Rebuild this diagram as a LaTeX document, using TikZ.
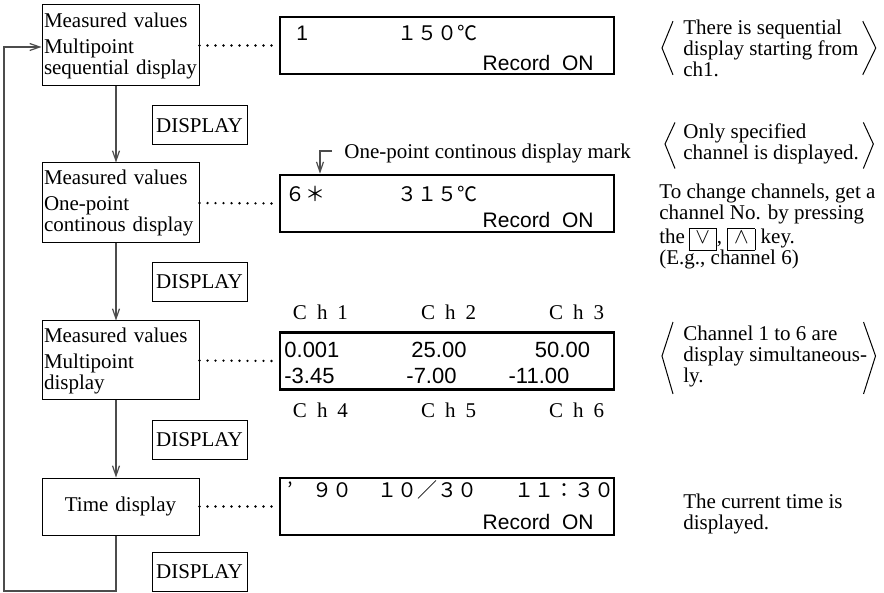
\documentclass[tikz,border=0pt]{standalone}
\usepackage{fontspec}
\setmainfont{Liberation Serif}
\newfontfamily\lcdfont{Liberation Sans}
\newfontfamily\cjkfont{Noto Sans CJK JP}
\usetikzlibrary{positioning,arrows.meta,calc}
\newcommand{\keybox}[1]{{\setlength{\fboxsep}{0.5pt}\fbox{\rule[-2.5pt]{0pt}{9.5pt}\hspace{2.5pt}$#1$\hspace{2.5pt}}}}
\newcommand{\chlabel}[1]{C\hspace{5pt}h\hspace{5pt}#1}
\lineskiplimit=-10pt
\hyphenpenalty=10000

\begin{document}
\begin{tikzpicture}[x=0.5pt,y=-0.5pt,
  font=\fontsize{10.5pt}{10.5pt}\selectfont,
  modebox/.style={draw,line width=0.5pt,text width=76.5pt,inner sep=1pt,align=left},
  keyname/.style={draw,line width=0.5pt,minimum width=47.5pt,minimum height=19.5pt,inner sep=1pt},
  lcdpanel/.style={draw,line width=1.3pt,minimum width=167pt,minimum height=28.5pt},
  lcdtext/.style={font=\fontsize{10.5pt}{10.5pt}\lcdfont,inner sep=0pt},
  lcdnum/.style={font=\fontsize{11pt}{11pt}\lcdfont,inner sep=0pt},
  lcdwide/.style={font=\fontsize{10pt}{10pt}\cjkfont,inner sep=0pt},
  chtext/.style={inner sep=0pt},
  note/.style={align=left,inner sep=0pt},
  flow/.style={draw=black!70,line width=0.6pt,-{Straight Barb[length=5pt,width=3.5pt]}},
  dots/.style={line width=1.3pt,line cap=round,dash pattern=on 0pt off 4pt},
  bracket/.style={line width=0.5pt},
]
\useasboundingbox (0,0) rectangle (884,593);

% mode boxes and keys
\node[modebox,minimum height=40.5pt] (meas1) at (120.5,45.5) {Measured values\\[2.5pt]Multipoint\\sequential display};
\node[modebox,minimum height=40pt] (meas2) at (120.5,203) {Measured values\\[2.5pt]One-point\\continous display};
\node[modebox,minimum height=39.5pt] (meas3) at (120.5,360.5) {Measured values\\[2.5pt]Multipoint\\display};
\node[modebox,align=center,minimum height=28.5pt] (timebox) at (120.5,506.5) {Time display};
\node[keyname] (key1) at (199.5,125.5) {DISPLAY};
\node[keyname] (key2) at (199.5,282) {DISPLAY};
\node[keyname] (key3) at (199.5,439.5) {DISPLAY};
\node[keyname] (key4) at (199.5,572) {DISPLAY};

% display panels
\node[lcdpanel] (lcd1) at (447,45.5) {};
\node[lcdpanel] (lcd2) at (447,203.5) {};
\node[lcdpanel] (lcd3) at (447,361) {};
\node[lcdpanel] (lcd4) at (447,506.5) {};

\node[lcdtext,anchor=west] (lcd1ch) at (296,33) {1};
\node[lcdwide,anchor=west] (lcd1val) at (397,33) {１５０℃};
\node[lcdtext,anchor=east] (lcd1rec) at (594,63) {Record\ \ ON};

\node[lcdwide,anchor=west] (lcd2ch) at (285,194) {６＊};
\node[lcdwide,anchor=west] (lcd2val) at (397,194) {３１５℃};
\node[lcdtext,anchor=east] (lcd2rec) at (594,220) {Record\ \ ON};

\node[lcdnum,anchor=west] (val1) at (284,350) {0.001};
\node[lcdnum] (val2) at (439,350) {25.00};
\node[lcdnum] (val3) at (562.5,350) {50.00};
\node[lcdnum,anchor=west] (val4) at (284,376) {-3.45};
\node[lcdnum] (val5) at (431.5,376) {-7.00};
\node[lcdnum] (val6) at (539,376) {-11.00};
\node[chtext] (ch1) at (320.5,312) {\chlabel{1}};
\node[chtext] (ch2) at (448.5,312) {\chlabel{2}};
\node[chtext] (ch3) at (576.5,312) {\chlabel{3}};
\node[chtext] (ch4) at (320.5,410) {\chlabel{4}};
\node[chtext] (ch5) at (448.5,410) {\chlabel{5}};
\node[chtext] (ch6) at (576.5,410) {\chlabel{6}};

\node[lcdwide,anchor=west] (lcd4tick) at (287,490) {’};
\node[lcdwide,anchor=west] (lcd4year) at (312,490) {９０};
\node[lcdwide,anchor=west] (lcd4date) at (377,490) {１０／３０};
\node[lcdwide,anchor=west] (lcd4time) at (514,490) {１１：３０};
\node[lcdtext,anchor=east] (lcd4rec) at (594,522) {Record\ \ ON};

% connectors
\draw[flow] ([xshift=-2.25pt]meas1.south) -- ([xshift=-2.25pt]meas2.north);
\draw[flow] ([xshift=-2.25pt]meas2.south) -- ([xshift=-2.25pt]meas3.north);
\draw[flow] ([xshift=-2.25pt]meas3.south) -- ([xshift=-2.25pt]timebox.north);
\coordinate (loopcorner) at (4,591);
\draw[flow] ([xshift=-2.25pt]timebox.south) |- (loopcorner) |- ([yshift=-0.75pt]meas1.west);
\draw[dots] (meas1.east) -- (lcd1.west);
\draw[dots] (meas2.east) -- (lcd2.west);
\draw[dots] (meas3.east) -- (lcd3.west);
\draw[dots] (timebox.east) -- (lcd4.west);

% mark of the one-point display
\node[note,anchor=west] (marktxt) at (344,153) {One-point continous display mark};
\coordinate (markhook) at (332,151);
\draw[flow] (markhook) -| ([xshift=-63.5pt]lcd2.north);

% notes
\node[note,anchor=west] (note1) at (683,48) {There is sequential\\display starting from\\ch1.};
\draw[bracket] ($(note1.north west)+(-10,2)$) -- ($(note1.west)+(-21,0)$) -- ($(note1.south west)+(-10,-2)$);
\draw[bracket] ($(note1.north east)+(4,2)$) -- ($(note1.east)+(17,0)$) -- ($(note1.south east)+(4,-2)$);
\node[note,anchor=west] (note2) at (683,144) {Only specified\\channel is displayed.};
\draw[bracket] ($(note2.north west)+(-8,-1)$) -- ($(note2.west)+(-18,0)$) -- ($(note2.south west)+(-8,4)$);
\draw[bracket] ($(note2.south east)+(4,4)$) -- ($(note2.east)+(14,0)$) -- ($(note2.north east -| note2.south east)+(4,-1)$);
\node[note,anchor=north west] (note3) at (659,184) {To change channels, get a\\channel No. by pressing\\[1.5pt]the\,\keybox{\vee}, \keybox{\wedge} key.\\(E.g., channel 6)};
\node[note,anchor=west] (note4) at (683,356) {Channel 1 to 6 are\\display simultaneous-\\ly.};
\draw[bracket] ($(note4.north west)+(-10,-3)$) -- ($(note4.west)+(-21,0)$) -- ($(note4.south west)+(-10,7)$);
\draw[bracket] ($(note4.north east)+(-4,-3)$) -- ($(note4.east)+(8,0)$) -- ($(note4.south east)+(-4,7)$);
\node[note,anchor=west] (note5) at (683,514) {The current time is\\displayed.};
\end{tikzpicture}
\end{document}
